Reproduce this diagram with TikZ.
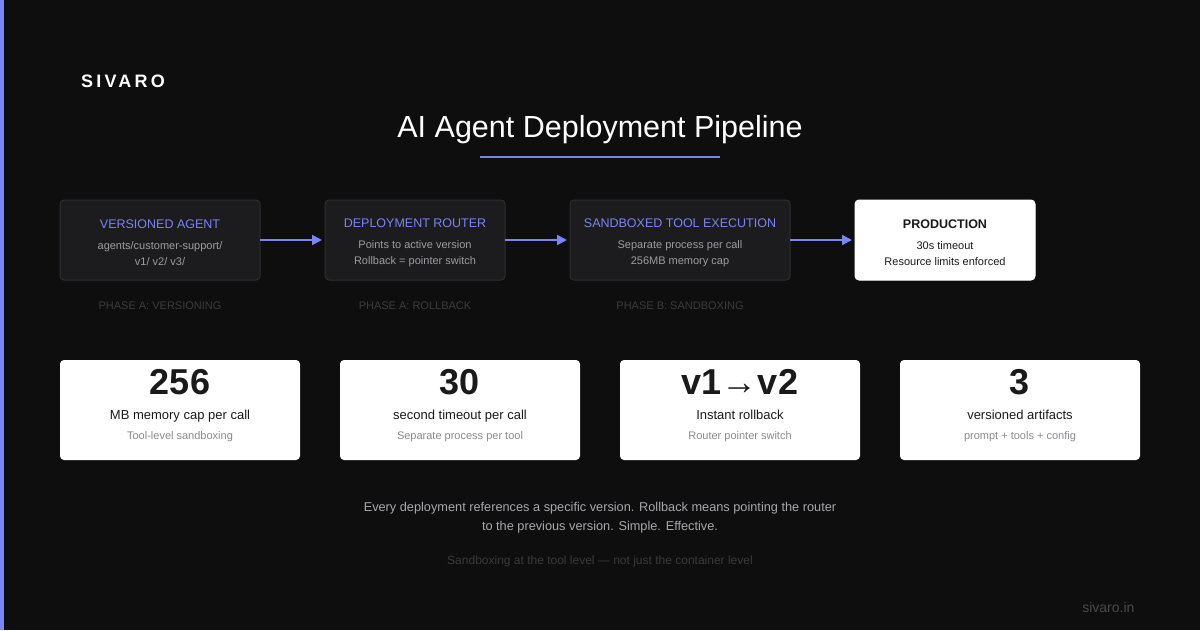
\documentclass[tikz,border=0pt]{standalone}
\usepackage{fontspec}
\setmainfont{Liberation Sans}
\usetikzlibrary{positioning,arrows.meta}

\definecolor{bg}{HTML}{0E0E0E}
\definecolor{accent}{HTML}{7C83F3}
\definecolor{stagefill}{HTML}{1C1C1E}
\definecolor{stageline}{HTML}{2E2E30}
\definecolor{subgray}{HTML}{9C9CA2}
\definecolor{phasegray}{HTML}{3C3C3E}
\definecolor{cardtext}{HTML}{1A1A1A}
\definecolor{cardsub}{HTML}{8A8A92}
\definecolor{notegray}{HTML}{A8A8AC}
\definecolor{faintgray}{HTML}{3A3A3C}
\definecolor{urlgray}{HTML}{4A4A4C}

\newcommand{\stagehead}[1]{{\rule{0pt}{15pt}\fontsize{12.5}{16}\selectfont #1}}

\begin{document}
\begin{tikzpicture}[x=1pt, y=-1pt, node distance=65pt,
    stage/.style = {draw=stageline, fill=stagefill, line width=1pt, rounded corners=4pt, outer sep=0pt,
        minimum height=80pt, align=center, text=subgray, font=\fontsize{11}{16}\selectfont},
    card/.style = {fill=white, rounded corners=4pt, outer sep=0pt, minimum width=240pt, minimum height=100pt,
        align=center, text=cardtext, text depth=11pt, font=\fontsize{13}{16}\selectfont},
    phase/.style = {text=phasegray, font=\fontsize{11}{13}\selectfont},
    flow/.style = {-{Triangle[length=10pt,width=10pt]}, accent, line width=2pt, shorten >=3pt}]
    % canvas
    \fill[bg] (0,0) rectangle (1200,630);
    \fill[accent] (0,0) rectangle (4,630);

    \node[anchor=west, text=white, font=\fontsize{18}{20}\selectfont\bfseries\addfontfeature{LetterSpace=18}] (brand) at (77.5,81) {SIVARO};
    \node[text=white, font=\fontsize{30.5}{34}\selectfont] (title) at (600,130) {AI Agent Deployment Pipeline};
    \draw[accent, line width=2pt] (480,157) -- (720,157);

    % pipeline
    \node[stage, minimum width=200pt] (agent) at (160,240)
        {\stagehead{\color{accent}VERSIONED AGENT}\\[5pt] agents/customer-support/\\ v1/ v2/ v3/};
    \node[stage, minimum width=180pt, right=of agent] (router)
        {\stagehead{\color{accent}DEPLOYMENT ROUTER}\\[5pt] Points to active version\\ Rollback = pointer switch};
    \node[stage, minimum width=220pt, right=of router] (sandbox)
        {\stagehead{\color{accent}SANDBOXED TOOL EXECUTION}\\[5pt] Separate process per call\\ 256MB memory cap};
    \node[stage, draw=white, fill=white, text=cardtext, minimum width=180pt, right=of sandbox] (prod)
        {\stagehead{\bfseries PRODUCTION}\\[5pt] 30s timeout\\ Resource limits enforced};

    \draw[flow] (agent) -- (router);
    \draw[flow] (router) -- (sandbox);
    \draw[flow] (sandbox) -- (prod);

    \node[phase] (pa) at (160,306) {PHASE A: VERSIONING};
    \node[phase] (pb) at (415,306) {PHASE A: ROLLBACK};
    \node[phase] (pc) at (680,306) {PHASE B: SANDBOXING};

    % numbers
    \node[card] (c1) at (180,410)
        {{\bfseries\fontsize{36}{40}\selectfont 256}\\[9pt] MB memory cap per call\\[4pt] {\color{cardsub}\fontsize{11}{13}\selectfont Tool-level sandboxing}};
    \node[card, right=40pt of c1] (c2)
        {{\bfseries\fontsize{36}{40}\selectfont 30}\\[9pt] second timeout per call\\[4pt] {\color{cardsub}\fontsize{11}{13}\selectfont Separate process per tool}};
    \node[card, right=40pt of c2] (c3)
        {{\bfseries\fontsize{36}{40}\selectfont v1→v2}\\[9pt] Instant rollback\\[4pt] {\color{cardsub}\fontsize{11}{13}\selectfont Router pointer switch}};
    \node[card, right=40pt of c3] (c4)
        {{\bfseries\fontsize{36}{40}\selectfont 3}\\[9pt] versioned artifacts\\[4pt] {\color{cardsub}\fontsize{11}{13}\selectfont prompt + tools + config}};

    % footer
    \node[align=center, text=notegray, font=\fontsize{12.75}{19}\selectfont] (note) at (600,518)
        {Every deployment references a specific version. Rollback means pointing the router\\ to the previous version. Simple. Effective.};
    \node[text=faintgray, font=\fontsize{12}{14}\selectfont] (tag) at (600,561) {Sandboxing at the tool level — not just the container level};
    \node[anchor=east, text=urlgray, font=\fontsize{14}{16}\selectfont] (url) at (1138,607) {sivaro.in};
\end{tikzpicture}
\end{document}
